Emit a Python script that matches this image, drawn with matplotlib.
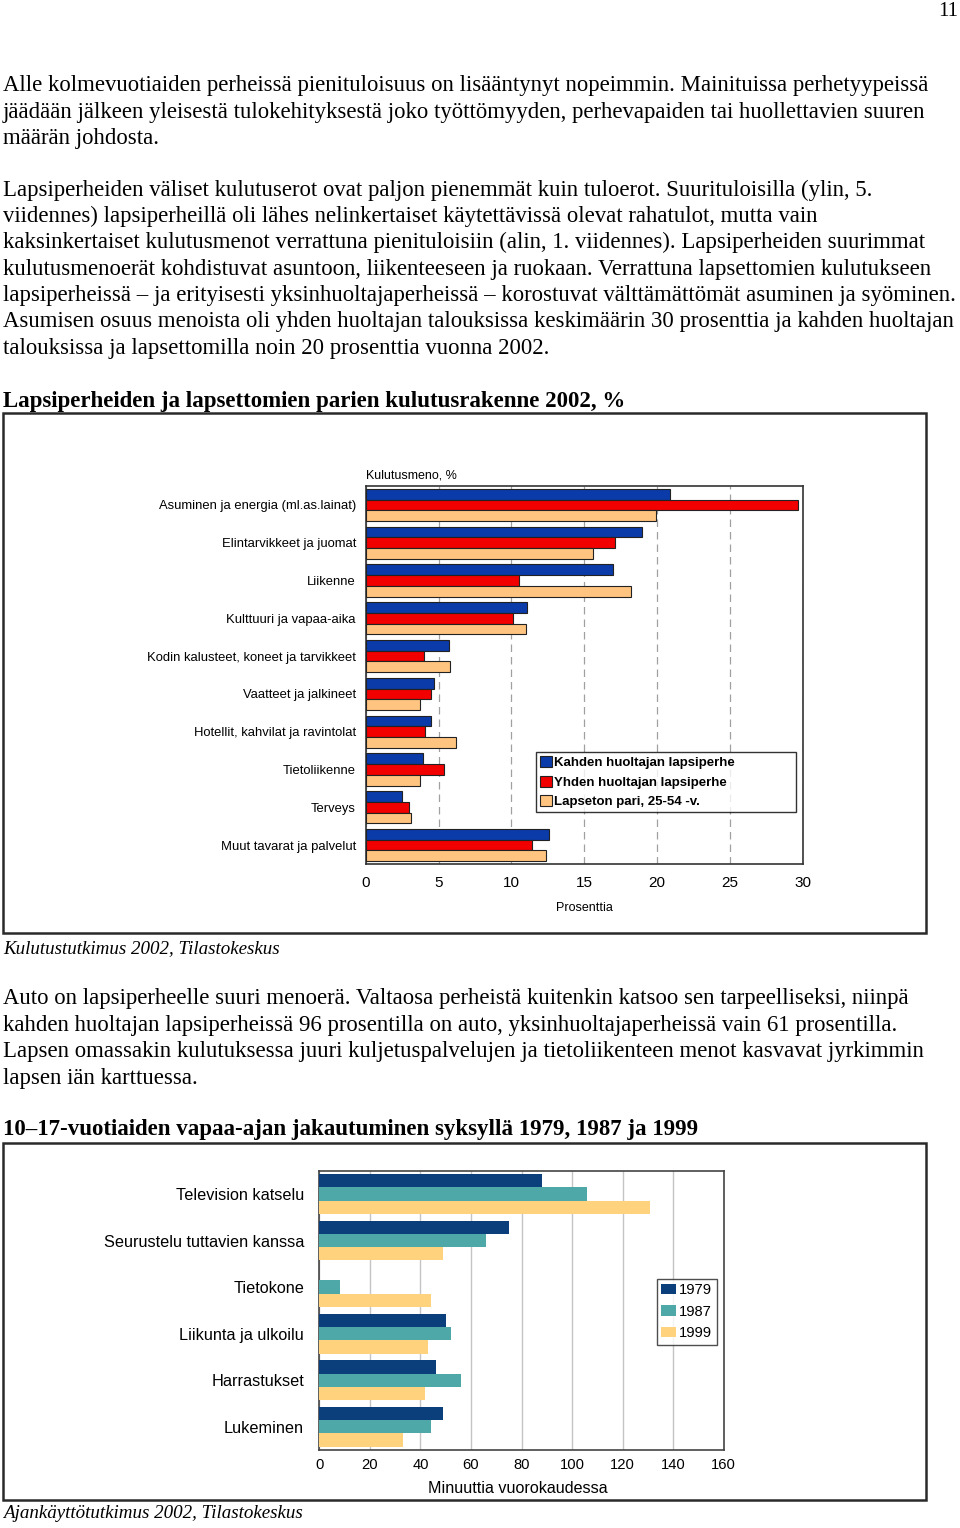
import matplotlib.pyplot as plt
from matplotlib.patches import Rectangle

# chart 1: consumption structure 2002, %
spend_cats = ['Asuminen ja energia (ml.as.lainat)', 'Elintarvikkeet ja juomat', 'Liikenne',
              'Kulttuuri ja vapaa-aika', 'Kodin kalusteet, koneet ja tarvikkeet',
              'Vaatteet ja jalkineet', 'Hotellit, kahvilat ja ravintolat', 'Tietoliikenne',
              'Terveys', 'Muut tavarat ja palvelut']
two_parent = [20.9, 19.0, 17.0, 11.1, 5.7, 4.7, 4.5, 3.9, 2.5, 12.6]
one_parent = [29.7, 17.1, 10.5, 10.1, 4.0, 4.5, 4.1, 5.4, 3.0, 11.4]
childless = [19.9, 15.6, 18.2, 11.0, 5.8, 3.7, 6.2, 3.7, 3.1, 12.4]
spend_labels = ['Kahden huoltajan lapsiperhe', 'Yhden huoltajan lapsiperhe', 'Lapseton pari, 25-54 -v.']
spend_ticks = [0, 5, 10, 15, 20, 25, 30]

# chart 2: free time of 10-17 year olds, minutes per day
time_cats = ['Television katselu', 'Seurustelu tuttavien kanssa', 'Tietokone',
             'Liikunta ja ulkoilu', 'Harrastukset', 'Lukeminen']
y1979 = [88, 75, 0, 50, 46, 49]
y1987 = [106, 66, 8, 52, 56, 44]
y1999 = [131, 49, 44, 43, 42, 33]
time_labels = ['1979', '1987', '1999']
time_ticks = [0, 20, 40, 60, 80, 100, 120, 140, 160]

para1 = ["Alle kolmevuotiaiden perheissä pienituloisuus on lisääntynyt nopeimmin. Mainituissa perhetyypeissä",
         "jäädään jälkeen yleisestä tulokehityksestä joko työttömyyden, perhevapaiden tai huollettavien suuren",
         "määrän johdosta."]
para2 = ["Lapsiperheiden väliset kulutuserot ovat paljon pienemmät kuin tuloerot. Suurituloisilla (ylin, 5.",
         "viidennes) lapsiperheillä oli lähes nelinkertaiset käytettävissä olevat rahatulot, mutta vain",
         "kaksinkertaiset kulutusmenot verrattuna pienituloisiin (alin, 1. viidennes). Lapsiperheiden suurimmat",
         "kulutusmenoerät kohdistuvat asuntoon, liikenteeseen ja ruokaan. Verrattuna lapsettomien kulutukseen",
         "lapsiperheissä – ja erityisesti yksinhuoltajaperheissä – korostuvat välttämättömät asuminen ja syöminen.",
         "Asumisen osuus menoista oli yhden huoltajan talouksissa keskimäärin 30 prosenttia ja kahden huoltajan",
         "talouksissa ja lapsettomilla noin 20 prosenttia vuonna 2002."]
para3 = ["Auto on lapsiperheelle suuri menoerä. Valtaosa perheistä kuitenkin katsoo sen tarpeelliseksi, niinpä",
         "kahden huoltajan lapsiperheissä 96 prosentilla on auto, yksinhuoltajaperheissä vain 61 prosentilla.",
         "Lapsen omassakin kulutuksessa juuri kuljetuspalvelujen ja tietoliikenteen menot kasvavat jyrkimmin",
         "lapsen iän karttuessa."]

W, H = 960, 1528
SERIF = 'Liberation Serif'
SANS = 'Liberation Sans'


def fx(x):
    return x / W


def fy(y):
    return 1 - y / H


fig = plt.figure(figsize=(W / 100, H / 100), dpi=100)
fig.patch.set_facecolor('white')


def put_lines(lines, y0, step=26.4, **kw):
    for i, line in enumerate(lines):
        fig.text(fx(3), fy(y0 + i * step), line, family=SERIF, fontsize=16.4,
                 va='center', ha='left', **kw)


fig.text(fx(958), fy(12), '11', family=SERIF, fontsize=15, ha='right', va='center')
put_lines(para1, 86)
put_lines(para2, 190)
put_lines(para3, 999)

fig.text(fx(3), fy(401), 'Lapsiperheiden ja lapsettomien parien kulutusrakenne 2002, %',
         family=SERIF, fontsize=16.5, weight='bold', va='center')
fig.text(fx(3), fy(1130), '10–17-vuotiaiden vapaa-ajan jakautuminen syksyllä 1979, 1987 ja 1999',
         family=SERIF, fontsize=16.5, weight='bold', va='center')
fig.text(fx(3), fy(949), 'Kulutustutkimus 2002, Tilastokeskus', family=SERIF, style='italic',
         fontsize=13.7, va='center')
fig.text(fx(3), fy(1514), 'Ajankäyttötutkimus 2002, Tilastokeskus', family=SERIF, style='italic',
         fontsize=13.7, va='center')

# frames round the charts
for (x0, y0, x1, y1) in [(3, 413, 926, 933), (3, 1143, 926, 1500)]:
    fig.patches.append(Rectangle((fx(x0), fy(y1)), fx(x1 - x0), (y1 - y0) / H,
                                 transform=fig.transFigure, fill=False,
                                 edgecolor='#2a2a2a', linewidth=1.8))

# ---- chart 1 ----
ax1 = fig.add_axes([fx(365.7), fy(864), 437 / W, 378 / H])
h = 0.283
pos = list(range(len(spend_cats)))
series1 = [(two_parent, '#0B3BA8'), (one_parent, '#F20000'), (childless, '#FFC47F')]
for k, (vals, col) in enumerate(series1):
    ax1.barh([p + (k - 1) * h for p in pos], vals, height=h, color=col,
             edgecolor='#222222', linewidth=0.8, label=spend_labels[k], zorder=3)
ax1.set_xlim(0, 30)
ax1.set_ylim(len(spend_cats) - 0.5, -0.5)
ax1.set_yticks(pos)
ax1.set_yticklabels(spend_cats, family=SANS, fontsize=9.4)
ax1.set_xticks(spend_ticks)
ax1.set_xticklabels([str(t) for t in spend_ticks], family=SANS, fontsize=11)
ax1.tick_params(axis='both', length=0)
ax1.tick_params(axis='y', pad=7)
ax1.tick_params(axis='x', pad=8.5)
ax1.xaxis.grid(True, linestyle=(0, (6, 4)), color='#a0a0a0', linewidth=0.9, zorder=0)
for s in ax1.spines.values():
    s.set_color('#333333')
    s.set_linewidth(1.2)
ax1.set_xlabel('Prosenttia', family=SANS, fontsize=9, labelpad=9)
fig.text(fx(366), fy(475), 'Kulutusmeno, %', family=SANS, fontsize=9, va='center')
leg1 = ax1.legend(loc='upper left', bbox_to_anchor=(fx(536), fy(811), (796 - 536) / W, 59 / H),
                  mode='expand', bbox_transform=fig.transFigure,
                  prop={'family': SANS, 'size': 9.5, 'weight': 'bold'},
                  frameon=True, fancybox=False, edgecolor='black', handlelength=0.9,
                  handleheight=0.9, handletextpad=0.2, labelspacing=0.5, borderpad=0.3,
                  borderaxespad=0)
leg1.get_frame().set_linewidth(1.0)

# ---- chart 2 ----
ax2 = fig.add_axes([fx(319.3), fy(1450), 404.4 / W, 279.3 / H])
h2 = 0.286
pos2 = list(range(len(time_cats)))
series2 = [(y1979, '#0B3F7C'), (y1987, '#4FA8A8'), (y1999, '#FFD27D')]
for k, (vals, col) in enumerate(series2):
    ax2.barh([p + (k - 1) * h2 for p in pos2], vals, height=h2, color=col,
             linewidth=0, label=time_labels[k], zorder=3)
ax2.set_xlim(0, 160)
ax2.set_ylim(len(time_cats) - 0.5, -0.5)
ax2.set_yticks(pos2)
ax2.set_yticklabels(time_cats, family=SANS, fontsize=11.7)
ax2.set_xticks(time_ticks)
ax2.set_xticklabels([str(t) for t in time_ticks], family=SANS, fontsize=10.6)
ax2.tick_params(axis='both', length=0)
ax2.tick_params(axis='y', pad=11)
ax2.tick_params(axis='x', pad=6)
ax2.xaxis.grid(True, color='#c4c4c4', linewidth=1.0, zorder=0)
for s in ax2.spines.values():
    s.set_color('#444444')
    s.set_linewidth(1.2)
ax2.set_xlabel('Minuuttia vuorokaudessa', family=SANS, fontsize=11.6)
ax2.xaxis.set_label_coords((517.5 - 319.3) / 404.4, -0.112)
leg2 = ax2.legend(loc='upper left', bbox_to_anchor=(fx(657), fy(1279)),
                  bbox_transform=fig.transFigure, prop={'family': SANS, 'size': 10.6},
                  frameon=True, fancybox=False, edgecolor='#222222', handlelength=1.0,
                  handleheight=0.7, handletextpad=0.2, labelspacing=0.5, borderpad=0.3,
                  borderaxespad=0)
leg2.get_frame().set_linewidth(1.0)

fig.savefig('out.png', dpi=100, facecolor='white')
